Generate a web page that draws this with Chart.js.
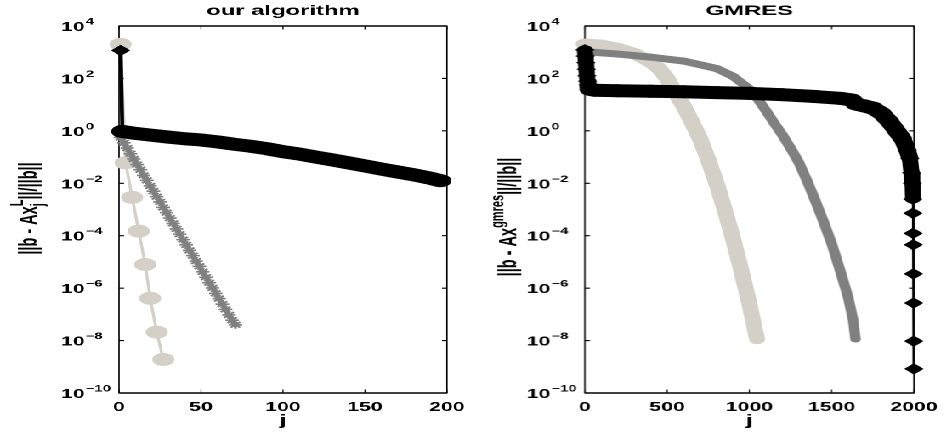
<!DOCTYPE html>
<html><head><meta charset="utf-8">
<title>Residual convergence</title>
<script src="https://cdn.jsdelivr.net/npm/chart.js@4.4.1/dist/chart.umd.min.js"></script>
<style>
html,body{margin:0;padding:0;background:#fff;overflow:hidden;width:943px;height:433px}
#stage{position:absolute;left:0;top:0;height:433px;transform-origin:0 0}
.pane{position:absolute;top:0;height:433px}
</style></head><body>
<div id="stage"><div class="pane" id="pane1"><canvas id="c1"></canvas></div><div class="pane" id="pane2"><canvas id="c2"></canvas></div></div>
<script>
// ---------------- data ----------------
const titles = ['our algorithm', 'GMRES'];
const xLabel = 'j';
const leftXTicks = [0, 50, 100, 150, 200];
const rightXTicks = [0, 500, 1000, 1500, 2000];
const yTickExponents = [4, 2, 0, -2, -4, -6, -8, -10];

// left panel: our algorithm
const leftBlackJ   = [1, 2, 10, 20, 30, 40, 50, 60, 70, 80, 90, 100, 110, 120, 130, 140, 150, 160, 170, 180, 190, 196];
const leftBlackRes = [1170, 0.95, 0.80, 0.68, 0.58, 0.50, 0.45, 0.38, 0.31, 0.26, 0.21, 0.16, 0.13, 0.10, 0.078, 0.060, 0.046, 0.035, 0.027, 0.021, 0.0155, 0.0125];
const leftStarJ   = [1, 3, 5, 7, 9, 11, 13, 15, 17, 19, 21, 23, 25, 27, 29, 31, 33, 35, 37, 39, 41, 43, 45, 47, 49, 51, 53, 55, 57, 59, 61, 63, 65, 67, 69, 71];
const leftStarRes = [0.56, 0.35, 0.22, 0.135, 0.085, 0.052, 0.033, 0.020, 0.0129, 0.0079, 0.0050, 0.0031, 0.00195, 0.0012, 7.6e-4, 4.7e-4, 2.95e-4, 1.82e-4, 1.15e-4, 7.1e-5, 4.5e-5, 2.75e-5, 1.74e-5, 1.07e-5, 6.8e-6, 4.2e-6, 2.6e-6, 1.62e-6, 1.02e-6, 6.3e-7, 4.0e-7, 2.45e-7, 1.55e-7, 9.5e-8, 6.0e-8, 4.0e-8];
const leftCircJ   = [1, 4, 8, 12, 16, 19, 23, 27];
const leftCircRes = [2000, 0.06, 2.9e-3, 1.5e-4, 8e-6, 4.1e-7, 2.1e-8, 1.9e-9];

// right panel: GMRES
const rightLightJ   = [0, 100, 200, 300, 400, 450, 500, 550, 600, 650, 700, 750, 800, 850, 900, 950, 1000, 1047];
const rightLightRes = [2040, 1860, 1410, 890, 420, 240, 100, 28, 8.9, 2.2, 0.5, 0.079, 0.01, 1e-3, 7.9e-5, 5.0e-6, 2.5e-7, 1.1e-8];
const rightGrayJ   = [0, 200, 400, 600, 800, 900, 1000, 1050, 1100, 1150, 1200, 1250, 1300, 1350, 1400, 1450, 1500, 1550, 1600, 1630, 1645];
const rightGrayRes = [1050, 850, 650, 460, 240, 120, 40, 16.6, 6.0, 2.0, 0.71, 0.22, 0.063, 0.0126, 2.2e-3, 3.5e-4, 5.0e-5, 5.0e-6, 4.5e-7, 6.3e-8, 1.1e-8];
const rightBlackJ   = [0, 3, 6, 9, 12, 16, 20, 26, 35, 60, 200, 400, 600, 800, 1000, 1200, 1400, 1550, 1620, 1650, 1700, 1750, 1800, 1850, 1900, 1930, 1960, 1975, 1985, 1990, 1993, 1994, 1995, 1996, 1997, 1998, 1999, 2000];
const rightBlackRes = [1230, 710, 400, 224, 126, 79, 56, 45, 38, 35.5, 34, 32.4, 31, 28.8, 26.9, 24, 20.4, 17.4, 15.1, 10.5, 8.9, 7.4, 4.8, 2.3, 0.89, 0.5, 0.178, 0.089, 0.025, 0.01, 0.0025, 7.2e-4, 1.23e-4, 4.5e-5, 3.5e-6, 2.7e-7, 9.5e-9, 8.3e-10];

// ---------------- layout (the original figure is stretched horizontally) ----------------
const S = 1.7;
const W = 943 / S;
const HALF = W / 2;
const FONT = '"Liberation Sans", Arial, Helvetica, sans-serif';
const C_BLACK = '#000000', C_GRAY = '#808080', C_LIGHT = '#d4d0c8';

const stage = document.getElementById('stage');
stage.style.width = W + 'px';
stage.style.transform = 'scaleX(' + S + ')';
const pane1 = document.getElementById('pane1'), pane2 = document.getElementById('pane2');
pane1.style.left = '0px'; pane1.style.width = HALF + 'px';
pane2.style.left = HALF + 'px'; pane2.style.width = HALF + 'px';

const pts = (js, vs) => js.map((j, i) => ({x: j, y: vs[i]}));

function bandWidth(flat, steep, thinFrom, thin) {
  return ctx => {
    if (thinFrom !== undefined && ctx.p0DataIndex >= thinFrom) return thin;
    const dx = (ctx.p1.x - ctx.p0.x) * S, dy = ctx.p1.y - ctx.p0.y;
    const len = Math.hypot(dx, dy) || 1;
    const c = Math.abs(dx) / len;
    return steep + (flat - steep) * c;
  };
}

function drawRich(ctx, parts, baseX, cy) {
  ctx.save();
  ctx.fillStyle = '#000';
  ctx.translate(baseX, cy);
  ctx.rotate(-Math.PI / 2);
  ctx.textAlign = 'left';
  ctx.textBaseline = 'alphabetic';
  let pos = 0, lastStart = 0;
  const lay = parts.map(p => {
    ctx.font = 'bold ' + p.size + 'px ' + FONT;
    const w = ctx.measureText(p.t).width;
    const x = p.stack ? lastStart : pos;
    lastStart = x;
    pos = Math.max(pos, x + w);
    return {p, x};
  });
  const total = pos;
  lay.forEach(({p, x}) => {
    ctx.font = 'bold ' + p.size + 'px ' + FONT;
    ctx.fillText(p.t, x - total / 2, p.shift);
  });
  ctx.restore();
}

function axesPlugin(o) {
  return {
    id: 'matlabAxes',
    beforeDatasetsDraw(chart) {
      const {ctx, chartArea: a} = chart;
      const x = chart.scales.x, y = chart.scales.y;
      ctx.save();
      ctx.strokeStyle = '#000';
      ctx.lineCap = 'butt';
      ctx.lineWidth = 1.4;
      ctx.beginPath();
      ctx.moveTo(a.left - 0.5 / S, a.top); ctx.lineTo(a.right + 0.5 / S, a.top);
      ctx.moveTo(a.left - 0.5 / S, a.bottom); ctx.lineTo(a.right + 0.5 / S, a.bottom);
      ctx.stroke();
      ctx.lineWidth = 1.4 / S;
      ctx.beginPath();
      ctx.moveTo(a.left, a.top); ctx.lineTo(a.left, a.bottom);
      ctx.moveTo(a.right, a.top); ctx.lineTo(a.right, a.bottom);
      ctx.stroke();
      ctx.lineWidth = 1.1 / S;
      ctx.beginPath();
      o.xticks.forEach(v => {
        const px = x.getPixelForValue(v);
        ctx.moveTo(px, a.bottom); ctx.lineTo(px, a.bottom - 3.5);
        ctx.moveTo(px, a.top); ctx.lineTo(px, a.top + 3.5);
      });
      ctx.stroke();
      ctx.lineWidth = 1.1;
      ctx.beginPath();
      yTickExponents.forEach(e => {
        const py = y.getPixelForValue(Math.pow(10, e));
        ctx.moveTo(a.left, py); ctx.lineTo(a.left + 5 / S, py);
        ctx.moveTo(a.right, py); ctx.lineTo(a.right - 5 / S, py);
      });
      ctx.stroke();
      ctx.restore();
    },
    afterDraw(chart) {
      const {ctx, chartArea: a} = chart;
      const x = chart.scales.x, y = chart.scales.y;
      ctx.save();
      ctx.fillStyle = '#000';
      ctx.textBaseline = 'alphabetic';
      yTickExponents.forEach(e => {
        const py = y.getPixelForValue(Math.pow(10, e));
        const x0 = a.left - 58 / S;
        ctx.textAlign = 'left';
        ctx.font = 'bold 12.5px ' + FONT;
        ctx.fillText('10', x0, py + 5);
        const w = ctx.measureText('10').width;
        ctx.font = 'bold 8.8px ' + FONT;
        ctx.fillText(e < 0 ? '\u2212' + (-e) : String(e), x0 + w + 0.6, py - 1.5);
      });
      ctx.textAlign = 'center';
      ctx.font = 'bold 12.5px ' + FONT;
      o.xticks.forEach(v => ctx.fillText(String(v), x.getPixelForValue(v), a.bottom + 18));
      const cx = (a.left + a.right) / 2;
      ctx.font = 'bold 14px ' + FONT;
      ctx.fillText(o.title, cx, 15);
      ctx.font = 'bold 15px ' + FONT;
      ctx.fillText(xLabel, cx, 425);
      ctx.restore();
      drawRich(ctx, o.ylabel.parts, o.ylabel.baseX / S - o.paneLeft, o.ylabel.cy);
    }
  };
}

function makeChart(id, paneLeft, plotL, plotR, xMax, datasets, axOpts) {
  axOpts.paneLeft = paneLeft;
  return new Chart(document.getElementById(id), {
    type: 'line',
    data: {datasets},
    options: {
      responsive: true, maintainAspectRatio: false, animation: false,
      devicePixelRatio: 2, events: [],
      layout: {padding: {left: plotL / S - paneLeft, right: paneLeft + HALF - plotR / S, top: 26, bottom: 433 - 393}},
      scales: {
        x: {type: 'linear', min: 0, max: xMax, display: false},
        y: {type: 'logarithmic', min: 1e-10, max: 1e4, display: false}
      },
      elements: {line: {tension: 0, borderCapStyle: 'round', borderJoinStyle: 'round'}},
      plugins: {legend: {display: false}, tooltip: {enabled: false}}
    },
    plugins: [axesPlugin(axOpts)]
  });
}

makeChart('c1', 0, 119, 447, 200, [
  {data: pts(leftBlackJ, leftBlackRes), borderColor: C_BLACK, backgroundColor: C_BLACK, clip: false,
   segment: {borderWidth: ctx => ctx.p0DataIndex === 0 ? 2.3 : 13},
   pointStyle: 'rectRot', pointRadius: 5, pointBackgroundColor: C_BLACK, pointBorderColor: C_BLACK, pointBorderWidth: 1},
  {data: pts(leftStarJ, leftStarRes), borderColor: C_GRAY, borderWidth: 1.4, clip: false,
   pointStyle: 'star', pointRadius: 4, pointBorderColor: C_GRAY, pointBorderWidth: 1.6},
  {data: pts(leftCircJ, leftCircRes), borderColor: C_LIGHT, borderWidth: 1.8, clip: false,
   pointStyle: 'circle', pointRadius: 6, pointBackgroundColor: C_LIGHT, pointBorderColor: C_LIGHT, pointBorderWidth: 1}
], {
  title: titles[0], xticks: leftXTicks,
  ylabel: {baseX: 36.7, cy: 208.5, parts: [
    {t: '||b - Ax', size: 14.5, shift: 0, stack: false},
    {t: 'L', size: 11, shift: -8, stack: false},
    {t: 'j', size: 11, shift: 4, stack: true},
    {t: '||/||b||', size: 14.5, shift: 0, stack: false}]}
});

makeChart('c2', HALF, 585, 913, 2000, [
  {data: pts(rightBlackJ, rightBlackRes), borderColor: C_BLACK, backgroundColor: C_BLACK, clip: false,
   segment: {borderWidth: bandWidth(13, 9, 30, 1.2)},
   pointStyle: 'rectRot', pointRadius: ctx => (ctx.dataIndex <= 8 || ctx.dataIndex >= 24) ? 5 : 0,
   pointBackgroundColor: C_BLACK, pointBorderColor: C_BLACK, pointBorderWidth: 1},
  {data: pts(rightGrayJ, rightGrayRes), borderColor: C_GRAY, clip: false,
   segment: {borderWidth: bandWidth(7, 6)}, pointRadius: 0},
  {data: pts(rightLightJ, rightLightRes), borderColor: C_LIGHT, clip: false,
   segment: {borderWidth: bandWidth(11, 9)}, pointRadius: 0}
], {
  title: titles[1], xticks: rightXTicks,
  ylabel: {baseX: 516.7, cy: 217, parts: [
    {t: '||b - Ax', size: 14.5, shift: 0, stack: false},
    {t: 'gmres', size: 11, shift: -7.5, stack: false},
    {t: '||/||b||', size: 14.5, shift: 0, stack: false}]}
});
</script></body></html>
